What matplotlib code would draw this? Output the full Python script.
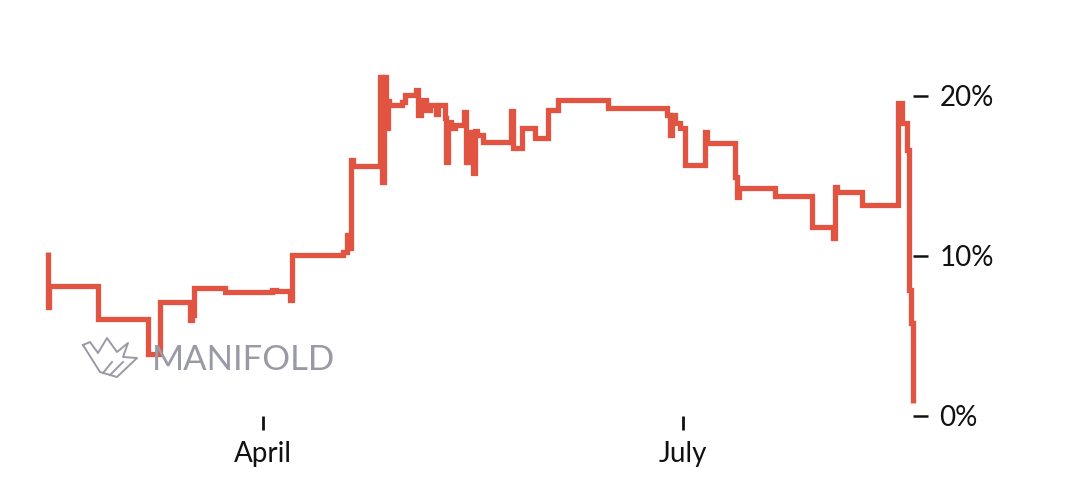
import matplotlib
matplotlib.use("Agg")
import matplotlib.pyplot as plt
import matplotlib.dates as mdates
import numpy as np
import pandas as pd

# probability history (step chart)
times = [
    "2023-02-13 10:00", "2023-02-13 12:00", "2023-02-13 13:00", "2023-02-24 06:00",
    "2023-03-07 02:00", "2023-03-09 16:00", "2023-03-16 04:00", "2023-03-16 15:00",
    "2023-03-17 01:00", "2023-03-23 18:00", "2023-04-02 23:00", "2023-04-03 20:00",
    "2023-04-06 20:00", "2023-04-07 07:00", "2023-04-18 08:00", "2023-04-19 05:00",
    "2023-04-19 15:00", "2023-04-20 02:00", "2023-04-20 12:00", "2023-04-26 08:00",
    "2023-04-26 19:00", "2023-04-27 05:00", "2023-04-27 16:00", "2023-04-28 02:00",
    "2023-04-28 07:00", "2023-05-01 03:00", "2023-05-01 18:00", "2023-05-04 04:00",
    "2023-05-04 14:00", "2023-05-05 06:00", "2023-05-06 08:00", "2023-05-07 05:00",
    "2023-05-08 12:00", "2023-05-08 22:00", "2023-05-10 11:00", "2023-05-10 16:00",
    "2023-05-11 02:00", "2023-05-11 18:00", "2023-05-12 14:00", "2023-05-14 13:00",
    "2023-05-15 00:00", "2023-05-15 20:00", "2023-05-16 12:00", "2023-05-16 23:00",
    "2023-05-17 09:00", "2023-05-18 16:00", "2023-05-24 18:00", "2023-05-25 04:00",
    "2023-05-27 03:00", "2023-05-29 23:00", "2023-06-01 18:00", "2023-06-03 22:00",
    "2023-06-14 18:00", "2023-06-27 13:00", "2023-06-28 05:00", "2023-06-28 15:00",
    "2023-06-29 06:00", "2023-06-30 09:00", "2023-07-01 11:00", "2023-07-05 18:00",
    "2023-07-06 05:00", "2023-07-12 07:00", "2023-07-12 17:00", "2023-07-13 03:00",
    "2023-07-20 23:00", "2023-07-28 23:00", "2023-08-02 12:00", "2023-08-02 23:00",
    "2023-08-03 09:00", "2023-08-08 19:00", "2023-08-16 14:00", "2023-08-17 11:00",
    "2023-08-18 13:00", "2023-08-19 00:00", "2023-08-19 10:00", "2023-08-19 20:00",
]
prob = [
    10.25, 6.8, 8.1, 6.05,
    3.9, 7.1, 6.0, 6.3,
    8.0, 7.75, 7.85, 7.8,
    7.25, 10.05, 10.25, 11.3,
    10.5, 16.0, 15.6, 21.2,
    14.6, 21.2, 18.0, 19.7,
    19.45, 19.6, 20.05, 20.4,
    18.8, 19.75, 19.1, 19.45,
    18.9, 19.45, 18.6, 15.9,
    18.4, 18.0, 18.2, 19.0,
    15.9, 17.75, 15.2, 17.8,
    17.55, 17.1, 19.05, 16.75,
    18.0, 17.4, 19.1, 19.75,
    19.25, 18.8, 17.55, 18.8,
    18.3, 18.0, 15.7, 17.75,
    17.05, 14.95, 13.7, 14.25,
    13.75, 11.8, 11.1, 14.3,
    14.0, 13.2, 19.55, 18.3,
    16.6, 7.9, 5.8, 0.8,
]
x_ticks = ["2023-04-01", "2023-07-01"]
x_labels = ["April", "July"]
y_ticks = [0, 10, 20]
y_labels = ["0%", "10%", "20%"]

plt.rcParams['font.family'] = ['Lato', 'DejaVu Sans']

fig = plt.figure(figsize=(10.8, 4.97), dpi=100)
ax = fig.add_axes([40 / 1080, 81 / 497, 873 / 1080, 320 / 497])

t = pd.to_datetime(times)
ax.step(t, prob, where="post", color="#e05441", lw=3.8,
        solid_joinstyle="miter", solid_capstyle="butt", clip_on=False, zorder=3)

apr1 = mdates.date2num(pd.Timestamp("2023-04-01"))
ax.set_xlim(apr1 - 48.32, apr1 + 140.85)
ax.set_ylim(0, 20)

for s in ax.spines.values():
    s.set_visible(False)

ax.set_xticks(pd.to_datetime(x_ticks))
ax.set_xticklabels(x_labels)
ax.set_yticks(y_ticks)
ax.set_yticklabels(y_labels)
ax.yaxis.tick_right()
ax.tick_params(axis="x", direction="out", length=10, width=2, pad=8,
               labelsize=20, colors="#111111")
ax.tick_params(axis="y", direction="out", length=11, width=1.8, pad=8,
               labelsize=20, colors="#111111")

# watermark
fig.text(152 / 1080, 1 - 370 / 497, "MANIFOLD", fontsize=25, color="#9a9aa6",
         fontweight="normal", ha="left", va="baseline", zorder=5)
logo_x = [83, 90, 98, 107, 117, 128, 123, 137, 117, 100, 83]
logo_y = [345, 342, 353, 338, 352, 343, 357, 358, 377, 372, 345]
fig.add_artist(plt.Line2D(np.array(logo_x) / 1080, 1 - np.array(logo_y) / 497,
                          transform=fig.transFigure, color="#9a9aa6", lw=1.4))
fig.add_artist(plt.Line2D(np.array([103, 112]) / 1080, 1 - np.array([373, 362]) / 497,
                          transform=fig.transFigure, color="#9a9aa6", lw=1.4))
fig.add_artist(plt.Line2D(np.array([110, 123]) / 1080, 1 - np.array([375, 362]) / 497,
                          transform=fig.transFigure, color="#9a9aa6", lw=1.4))

fig.savefig("out.png", dpi=100, facecolor="white")
